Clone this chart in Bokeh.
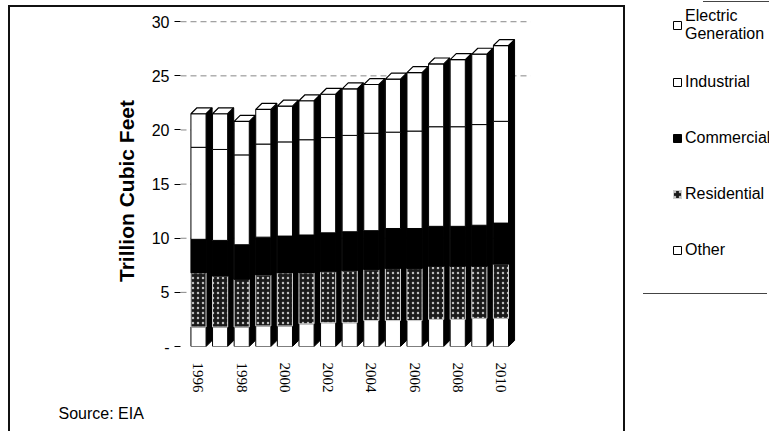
import math
import numpy as np
from bokeh.plotting import figure
from bokeh.models import (ColumnDataSource, FixedTicker, Legend, LegendItem,
                          Title, Range1d, InlineStyleSheet)
from bokeh.embed import file_html
from bokeh.resources import INLINE

# ---- data (Trillion Cubic Feet) ----
years = list(range(1996, 2011))
other = [1.8, 1.8, 1.8, 1.9, 1.9, 2.1, 2.2, 2.2, 2.4, 2.4, 2.4, 2.5, 2.5, 2.6, 2.6]
residential = [5.0, 4.7, 4.4, 4.7, 4.9, 4.7, 4.7, 4.8, 4.7, 4.8, 4.8, 4.9, 4.9, 4.8, 5.0]
commercial = [3.1, 3.3, 3.2, 3.5, 3.4, 3.5, 3.6, 3.6, 3.6, 3.7, 3.7, 3.7, 3.7, 3.8, 3.8]
industrial = [8.5, 8.4, 8.3, 8.6, 8.7, 8.8, 8.8, 8.9, 9.0, 8.9, 9.0, 9.2, 9.2, 9.3, 9.4]
electric = [3.1, 3.3, 3.1, 3.2, 3.3, 3.6, 4.0, 4.3, 4.5, 4.9, 5.4, 5.8, 6.2, 6.5, 7.0]
year_ticks = [1996, 1998, 2000, 2002, 2004, 2006, 2008, 2010]
y_ticks = [0, 5, 10, 15, 20, 25, 30]

# ---- stacking ----
x = np.array(years, dtype=float)
s1 = np.array(other)
s2 = s1 + np.array(residential)
s3 = s2 + np.array(commercial)
s4 = s3 + np.array(industrial)
s5 = s4 + np.array(electric)
src = ColumnDataSource(dict(x=x, z=np.zeros_like(s1), s1=s1, s2=s2, s3=s3, s4=s4, s5=s5))

W = 0.7      # front face width
H = W / 2
DX = 0.28    # depth offset (x units)
DY = 0.55    # depth offset (y units)
X_LO, X_HI = 1995.167, 2022.43
X_WALL_TOP, X_WALL = 2011.37, 2010.6

# frame spans the chart and the legend area so the legend is not clipped
p = figure(width=769, height=431, output_backend="svg", toolbar_location=None,
           x_range=Range1d(X_LO, X_HI), y_range=Range1d(0, 31.96),
           min_border_left=180, min_border_right=0, min_border_top=0,
           min_border_bottom=85)
p.outline_line_color = None
p.background_fill_color = "white"
p.border_fill_color = "white"
p.xgrid.grid_line_color = None
p.ygrid.grid_line_color = None

# back-wall gridlines (dashed) at the y ticks
gy = y_ticks[1:]
gx1 = [X_WALL_TOP if v >= 25 else X_WALL for v in gy]
p.segment(x0=[X_LO] * len(gy), y0=gy, x1=gx1, y1=gy,
          line_color="#555555", line_dash="6 4", line_alpha=0.7, line_width=1)

# 3D side faces & top faces derived from data
side_xs = [[xi + H, xi + H + DX, xi + H + DX, xi + H] for xi in x]
side_ys = [[0, DY, t + DY, t] for t in s5]
top_xs = [[xi - H, xi + H, xi + H + DX, xi - H + DX] for xi in x]
top_ys = [[t, t, t + DY, t + DY] for t in s5]
p.patches(side_xs, side_ys, fill_color="black", line_color="black", line_width=1)

r_oth = p.vbar(x="x", width=W, bottom="z", top="s1", source=src,
               fill_color="white", line_color="black", line_width=1)
r_res = p.vbar(x="x", width=W, bottom="s1", top="s2", source=src,
               fill_color="#1a1a1a", hatch_pattern=".", hatch_color="#bdbdbd",
               hatch_scale=5, hatch_weight=1, line_color="#cfcfcf", line_width=1)
r_com = p.vbar(x="x", width=W, bottom="s2", top="s3", source=src,
               fill_color="black", line_color="black", line_width=1)
r_ind = p.vbar(x="x", width=W, bottom="s3", top="s4", source=src,
               fill_color="white", line_color="black", line_width=1)
r_ele = p.vbar(x="x", width=W, bottom="s4", top="s5", source=src,
               fill_color="white", line_color="black", line_width=1)
p.patches(top_xs, top_ys, fill_color="white", line_color="black", line_width=1.2)

# axes
p.yaxis.ticker = FixedTicker(ticks=y_ticks)
p.yaxis.major_label_overrides = {0: "-"}
p.yaxis.axis_line_color = None
p.yaxis.major_tick_in = 0
p.yaxis.major_tick_out = 6
p.yaxis.minor_tick_line_color = None
p.yaxis.major_label_standoff = 5
p.yaxis.major_label_text_font = "Liberation Sans"
p.yaxis.major_label_text_font_size = "16px"
p.yaxis.major_label_text_color = "black"
# trailing no-break spaces move the centred title down to match the reference
p.yaxis.axis_label = "Trillion Cubic Feet" + "\u00a0" * 6
p.yaxis.axis_label_text_font = "Liberation Sans"
p.yaxis.axis_label_text_font_style = "bold"
p.yaxis.axis_label_text_font_size = "21px"
p.yaxis.axis_label_standoff = 11
p.yaxis.axis_label_text_color = "black"

p.xaxis.ticker = FixedTicker(ticks=year_ticks)
p.xaxis.axis_line_color = None
p.xaxis.major_tick_line_color = None
p.xaxis.minor_tick_line_color = None
p.xaxis.major_label_orientation = -math.pi / 2
p.xaxis.major_label_standoff = 10
p.xaxis.major_label_text_font = "Liberation Serif"
p.xaxis.major_label_text_font_size = "15px"
p.xaxis.major_label_text_color = "black"

# source note under the chart
p.add_layout(Title(text="Source: EIA", align="left", offset=-122, standoff=14,
                   text_font="Liberation Sans", text_font_size="16px",
                   text_font_style="normal", text_color="black"), "below")

# legend at the right of the chart box
legend = Legend(items=[LegendItem(label="Electric\nGeneration", renderers=[r_ele]),
                       LegendItem(label="Industrial", renderers=[r_ind]),
                       LegendItem(label="Commercial", renderers=[r_com]),
                       LegendItem(label="Residential", renderers=[r_res]),
                       LegendItem(label="Other", renderers=[r_oth])],
                location=(492, 79), spacing=21,
                padding=0, margin=0, border_line_color=None, background_fill_alpha=0,
                label_text_font="Liberation Sans", label_text_font_size="16px",
                label_text_color="black",
                glyph_width=10, glyph_height=10, label_standoff=3, label_height=35)
p.add_layout(legend)

# outer chart border and legend rules (decoration)
p.stylesheets = [InlineStyleSheet(css="""
:host::after {
  content: ""; position: absolute; left: 8px; top: 5px; width: 617px; height: 426px;
  box-sizing: border-box; pointer-events: none; z-index: 10;
  border-left: 2px solid #111; border-top: 2px solid #111; border-right: 2px solid #111;
}
:host::before {
  content: ""; position: absolute; left: 0; top: 0; width: 769px; height: 431px;
  pointer-events: none; z-index: 10;
  background:
    linear-gradient(#444, #444) 703px 1px / 66px 1px no-repeat,
    linear-gradient(#444, #444) 643px 293px / 124px 1px no-repeat;
}
""")]

open("out.html", "w").write(file_html(p, INLINE))
